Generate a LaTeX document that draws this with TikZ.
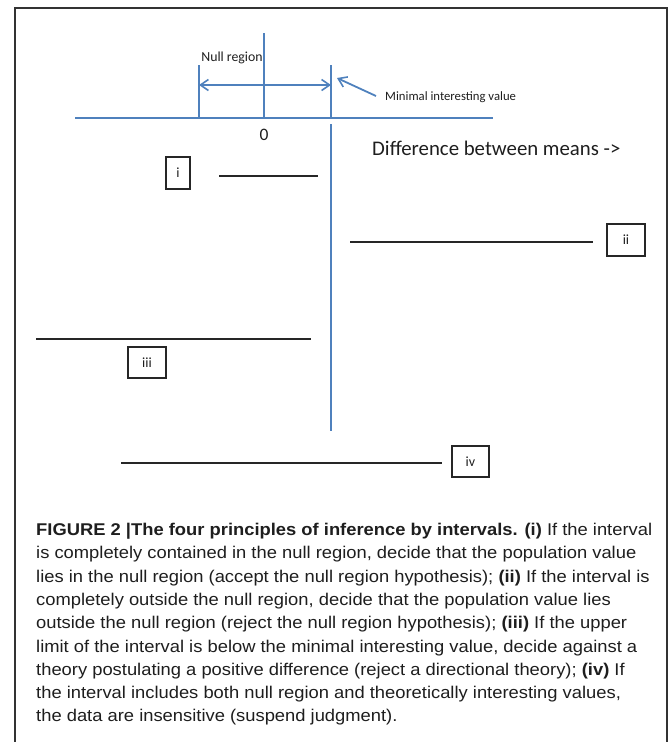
\documentclass[tikz,border=0pt]{standalone}
\usepackage{fontspec}
\setmainfont{Liberation Sans}[FakeStretch=1.08]
\newfontfamily\calibrifont{Carlito}
\usetikzlibrary{arrows.meta}
\definecolor{axblue}{RGB}{79,129,189}
\definecolor{txt}{RGB}{30,30,30}
\begin{document}
\begin{tikzpicture}[x=1pt,y=-1pt,
  frameline/.style={draw=black!80,line width=1.3pt},
  blueline/.style={draw=axblue,line width=1.8pt},
  bluearrow/.style={blueline,-{Straight Barb[length=8pt,width=11pt,line width=1.6pt]}},
  intline/.style={draw=black!85,line width=1.8pt},
  lbox/.style={draw=black!85,line width=1.1pt,inner sep=0pt,text=txt,
    font=\calibrifont\fontsize{14}{16}\selectfont},
  smalllab/.style={text=txt,inner sep=0pt,font=\calibrifont\fontsize{13.8}{15}\selectfont},
  biglab/.style={text=txt,inner sep=0pt,font=\calibrifont\fontsize{20.8}{24}\selectfont},
  capline/.style={anchor=base west,inner sep=0pt,text=txt,font=\fontsize{17}{20}\selectfont}]
\useasboundingbox (0,0) rectangle (669,742);
% frame
\coordinate (fbl) at (15,742);
\coordinate (ftl) at (15,8);
\coordinate (ftr) at (667,8);
\coordinate (fbr) at (667,742);
\draw[frameline] (fbl) -- (ftl) -- (ftr) -- (fbr);
% axis
\coordinate (axL) at (75,118);
\coordinate (axR) at (493,118);
\draw[blueline] (axL) -- (axR);
\coordinate (zT) at (264,33);
\coordinate (zB) at (264,118);
\draw[blueline] (zT) -- (zB);
\coordinate (nT) at (199,65);
\coordinate (nB) at (199,118);
\draw[blueline] (nT) -- (nB);
\coordinate (mT) at (331,65);
\coordinate (mB) at (331,118);
\draw[blueline] (mT) -- (mB);
\coordinate (mlT) at (331,124);
\coordinate (mlB) at (331,431);
\draw[blueline] (mlT) -- (mlB);
\coordinate (daL) at (199,85);
\coordinate (daR) at (331,85);
\draw[blueline,{Straight Barb[length=8pt,width=11pt,line width=1.6pt]}-{Straight Barb[length=8pt,width=11pt,line width=1.6pt]}] (daL) -- (daR);
\coordinate (pS) at (376,96);
\coordinate (pE) at (337,78);
\draw[bluearrow] (pS) -- (pE);
% labels
\node[smalllab] (nulllab) at (232,58) {Null region};
\node[smalllab,anchor=west,font=\calibrifont\fontsize{12.7}{14}\selectfont] (mivlab) at (385,97) {Minimal interesting value};
\node[biglab,font=\calibrifont\fontsize{17.5}{20}\selectfont] (zero) at (264,135) {0};
\node[biglab,anchor=west] (difflab) at (372,148) {Difference between means ->};
% intervals
\coordinate (i1) at (219,176);
\coordinate (i2) at (318,176);
\draw[intline] (i1) -- (i2);
\node[lbox,minimum width=24pt,minimum height=32pt] (bi) at (178,173) {i};
\coordinate (ii1) at (350,242);
\coordinate (ii2) at (593,242);
\draw[intline] (ii1) -- (ii2);
\node[lbox,minimum width=38pt,minimum height=32pt] (bii) at (626,240) {ii};
\coordinate (iii1) at (36,339);
\coordinate (iii2) at (311,339);
\draw[intline] (iii1) -- (iii2);
\node[lbox,minimum width=38pt,minimum height=31pt] (biii) at (147,362.5) {iii};
\coordinate (iv1) at (121,463);
\coordinate (iv2) at (442,463);
\draw[intline] (iv1) -- (iv2);
\node[lbox,minimum width=37pt,minimum height=31pt] (biv) at (470.5,461.5) {iv};
% caption
\node[capline] (c1) at (36,535.5) {\textbf{FIGURE 2 |The four principles of inference by intervals. (i)} If the interval};
\node[capline] (c2) at (36,558.8) {is completely contained in the null region, decide that the population value};
\node[capline] (c3) at (36,582.1) {lies in the null region (accept the null region hypothesis); \textbf{(ii)} If the interval is};
\node[capline] (c4) at (36,605.4) {completely outside the null region, decide that the population value lies};
\node[capline] (c5) at (36,628.7) {outside the null region (reject the null region hypothesis); \textbf{(iii)} If the upper};
\node[capline] (c6) at (36,652.0) {limit of the interval is below the minimal interesting value, decide against a};
\node[capline] (c7) at (36,675.3) {theory postulating a positive difference (reject a directional theory); \textbf{(iv)} If};
\node[capline] (c8) at (36,698.6) {the interval includes both null region and theoretically interesting values,};
\node[capline] (c9) at (36,721.9) {the data are insensitive (suspend judgment).};
\end{tikzpicture}
\end{document}
